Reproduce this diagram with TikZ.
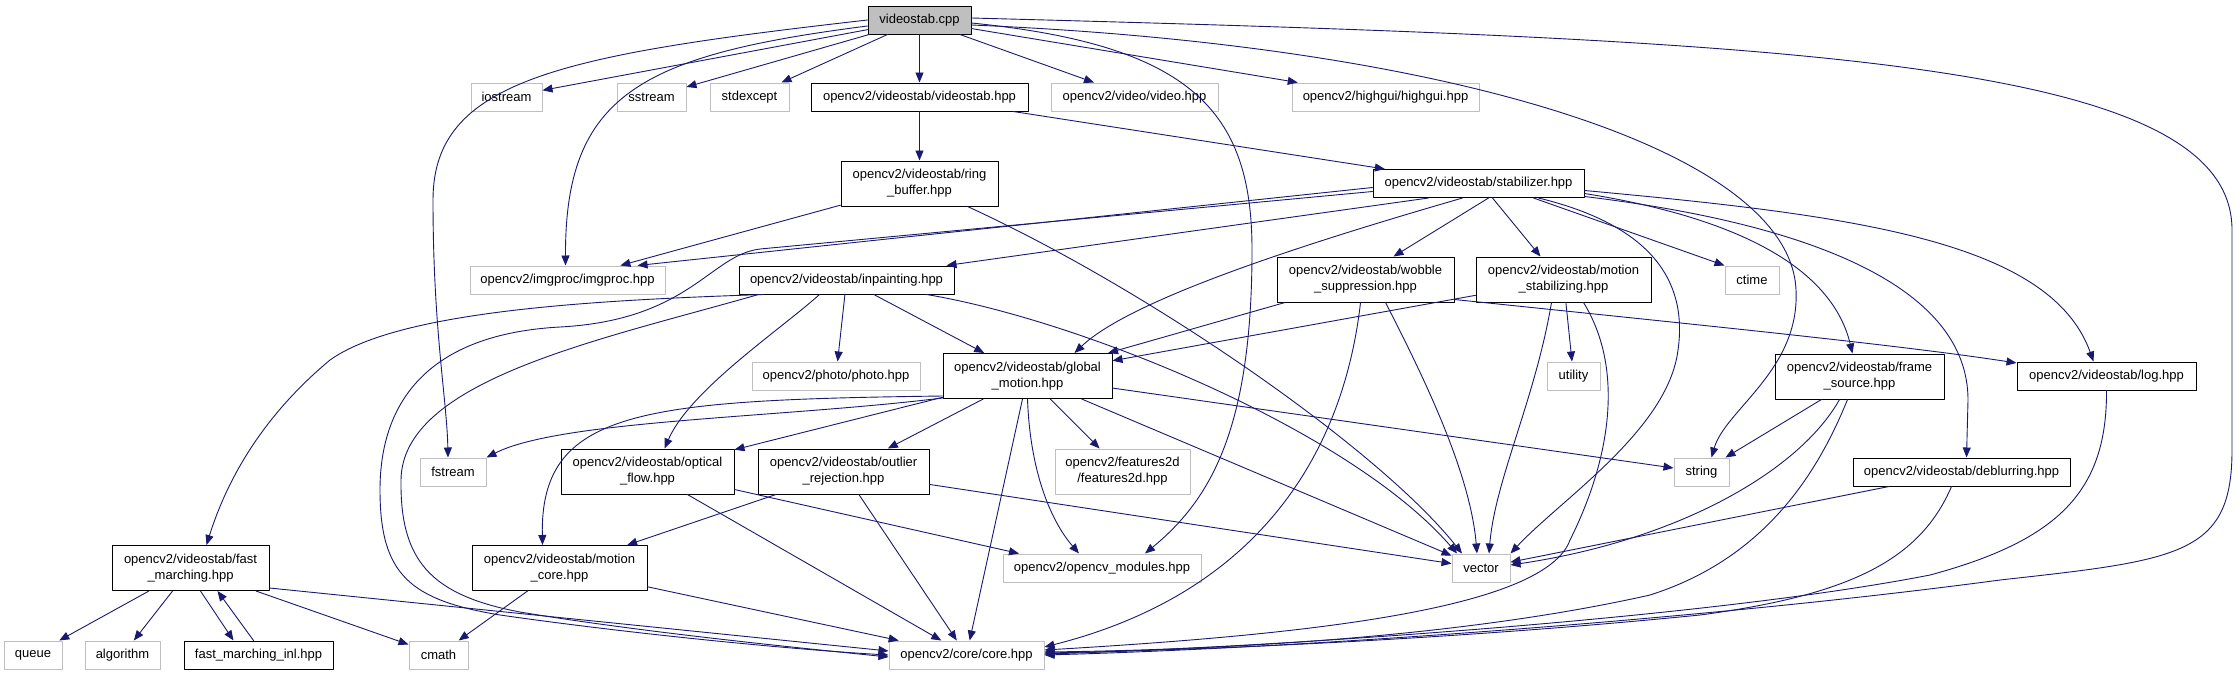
\documentclass[tikz,border=0pt]{standalone}
\usepackage{fontspec}
\setmainfont{Liberation Sans}
\usetikzlibrary{arrows.meta,calc}
\definecolor{greyline}{HTML}{BFBFBF}
\definecolor{midblue}{HTML}{191970}
\begin{document}
\begin{tikzpicture}[x=1pt,y=-1pt,font=\fontsize{13}{16}\selectfont,line join=round,line cap=round,
	box/.style={rectangle,inner sep=0pt,align=center,line width=1pt},
	cppbox/.style={box,draw=black,fill=greyline},
	docbox/.style={box,draw=black,fill=white},
	extbox/.style={box,draw=greyline,fill=white},
	dep/.style={draw=midblue,line width=0.9pt,-{Triangle[length=10pt,width=8pt]}}]
				\useasboundingbox (0,0) rectangle (2237,675);
				\node[cppbox,minimum width=103pt,minimum height=28pt] (cpp) at (919.5,20) {videostab.cpp};
				\foreach \x/\y/\w/\h/\n/\t in {919.5/97/217/28/vhpp/{opencv2/videostab/videostab.hpp},
					919.5/183.5/157/45/ringbuf/{opencv2/videostab/ring\\\_buffer.hpp},
					1478.5/183.5/211/28/stab/{opencv2/videostab/stabilizer.hpp},
					846.5/280/215/28/inpaint/{opencv2/videostab/inpainting.hpp},
					1365.5/279.5/177/45/wobble/{opencv2/videostab/wobble\\\_suppression.hpp},
					1563.5/279.5/175/45/motstab/{opencv2/videostab/motion\\\_stabilizing.hpp},
					1027.5/376/169/45/global/{opencv2/videostab/global\\\_motion.hpp},
					1859.5/376.5/169/45/frame/{opencv2/videostab/frame\\\_source.hpp},
					2106.5/376/179/28/log/{opencv2/videostab/log.hpp},
					647.5/471.5/173/45/optflow/{opencv2/videostab/optical\\\_flow.hpp},
					843.5/471.5/171/45/outlier/{opencv2/videostab/outlier\\\_rejection.hpp},
					1961.5/472/217/28/deblur/{opencv2/videostab/deblurring.hpp},
					190.5/568/157/45/fastm/{opencv2/videostab/fast\\\_marching.hpp},
					559.5/568/175/45/motcore/{opencv2/videostab/motion\\\_core.hpp},
					258.5/655/149/28/fminl/{fast\_marching\_inl.hpp}}
				\node[docbox,minimum width=\w pt,minimum height=\h pt] (\n) at (\x,\y) {\t};
				\foreach \x/\y/\w/\h/\n/\t in {506.5/97/71/28/iostream/iostream,
					651.5/97/69/28/sstream/sstream,
					749.5/97/79/28/stdexcept/stdexcept,
					1134.5/97/167/28/video/{opencv2/video/video.hpp},
					1385.5/97/187/28/highgui/{opencv2/highgui/highgui.hpp},
					567.5/280/195/28/imgproc/{opencv2/imgproc/imgproc.hpp},
					1752/280/54/28/ctime/ctime,
					836/376/168/28/photo/{opencv2/photo/photo.hpp},
					1573.5/376/53/28/utility/utility,
					453/472/66/28/fstream/fstream,
					1122.5/471.5/135/45/feat2d/{opencv2/features2d\\/features2d.hpp},
					1701.5/472/55/28/string/string,
					1102/568/198/28/modules/{opencv2/opencv\_modules.hpp},
					1481/568/58/28/vector/vector,
					33/655/58/28/queue/queue,
					122.5/655/75/28/algorithm/algorithm,
					438.5/655/59/28/cmath/cmath,
					966.5/655/155/28/core/{opencv2/core/core.hpp}}
				\node[extbox,minimum width=\w pt,minimum height=\h pt] (\n) at (\x,\y) {\t};
				% straight includes
				\foreach \a/\b in {cpp/iostream,cpp/sstream,cpp/stdexcept,cpp/vhpp,cpp/video,cpp/highgui,
					vhpp/ringbuf,vhpp/stab,ringbuf/imgproc,inpaint/photo,inpaint/global,wobble/global,
					motstab/global,motstab/utility,global/outlier,global/optflow,global/feat2d,global/core,
					global/vector,global/string,optflow/core,outlier/motcore,outlier/core,outlier/vector,
					motcore/cmath,motcore/core,fastm/queue,fastm/algorithm,fastm/cmath,frame/string,deblur/vector}
				\draw[dep] (\a) -- (\b);
				% videostab.cpp
				\draw[dep] (cpp.west) .. controls (560,55) and (433,80) .. (433,200) .. controls (433,330) and (447,400) .. ([xshift=-5pt]fstream.north);
				\draw[dep] ([yshift=-6pt]cpp.west) .. controls (640,55) and (565,95) .. ([xshift=-2pt]imgproc.north);
				\draw[dep] ([yshift=-3pt]cpp.east) .. controls (1190,45) and (1252,110) .. (1252,250) .. controls (1252,430) and (1210,500) .. ([xshift=43pt]modules.north);
				\draw[dep] ([yshift=-5pt]cpp.east) .. controls (1450,45) and (1790,150) .. (1796,290) .. controls (1800,370) and (1725,410) .. ([xshift=10pt]string.north);
				\draw[dep] ([yshift=2pt]cpp.east) .. controls (1800,40) and (2232,60) .. (2232,230) -- (2232,450) .. controls (2232,555) and (2180,560) .. (2000,580) .. controls (1700,620) and (1300,648) .. (core.east);
				% ring buffer
				\draw[dep] ([xshift=48pt]ringbuf.south) .. controls (1150,290) and (1380,450) .. ([xshift=-19pt]vector.north);
				% stabilizer
				\draw[dep] ([yshift=-4pt]stab.west) -- ([xshift=70pt]imgproc.north);
				\draw[dep] ([yshift=-8pt]stab.west) -- (760,249) .. controls (710,255) and (690,320) .. (560,327) .. controls (430,334) and (380,400) .. (380,490) .. controls (380,575) and (410,600) .. (500,615) .. controls (640,635) and (800,650) .. (core.west);
				\draw[dep] ([xshift=-50pt]stab.south) -- ([xshift=100pt]inpaint.north);
				\draw[dep] ([xshift=-16pt]stab.south) .. controls (1300,245) and (1130,300) .. ([xshift=47pt]global.north);
				\draw[dep] ([xshift=10pt]stab.south) -- ([xshift=28pt]wobble.north);
				\draw[dep] ([xshift=14pt]stab.south) -- ([xshift=-23pt]motstab.north);
				\draw[dep] ([xshift=55pt]stab.south) -- (ctime.north west);
				\draw[dep] ([xshift=60pt]stab.south) .. controls (1650,225) and (1688,280) .. (1678,350) .. controls (1668,430) and (1560,500) .. (vector.north east);
				\draw[dep] ([yshift=-7pt]stab.east) .. controls (1850,215) and (2050,240) .. ([xshift=-13pt]log.north);
				\draw[dep] ([yshift=-10pt]stab.east) .. controls (1720,215) and (1830,260) .. ([xshift=-7pt]frame.north);
				\draw[dep] ([yshift=-13pt]stab.east) .. controls (1820,225) and (1968,290) .. (1968,400) -- ([xshift=5pt]deblur.north);
				% inpainting
				\draw[dep] ([xshift=20pt]inpaint.south west) .. controls (600,340) and (402,380) .. (401,480) .. controls (400,560) and (430,595) .. (520,612) .. controls (640,632) and (800,648) .. ([yshift=-2pt]core.west);
				\draw[dep] ([xshift=25pt]inpaint.south west) .. controls (600,300) and (400,310) .. (330,360) .. controls (270,410) and (230,470) .. ([xshift=16pt]fastm.north);
				\draw[dep] ([xshift=-27pt]inpaint.south) .. controls (780,330) and (690,390) .. ([xshift=17pt]optflow.north);
				\draw[dep] ([xshift=80pt]inpaint.south) .. controls (1080,320) and (1350,430) .. ([xshift=-24pt]vector.north);
				% wobble suppression
				\draw[dep] ([xshift=-5pt]wobble.south) .. controls (1345,440) and (1270,590) .. ([yshift=8pt]core.east);
				\draw[dep] ([xshift=20pt]wobble.south) .. controls (1420,370) and (1470,470) .. ([xshift=-4pt]vector.north);
				\draw[dep] ([yshift=-20pt]wobble.east) .. controls (1700,325) and (1900,345) .. ([yshift=13pt]log.west);
				% motion stabilizing
				\draw[dep] ([xshift=-12pt]motstab.south) .. controls (1535,400) and (1495,480) .. ([xshift=8pt]vector.north);
				\draw[dep] ([xshift=20pt]motstab.south) .. controls (1625,370) and (1610,460) .. (1570,540) .. controls (1545,610) and (1300,635) .. ([yshift=5pt]core.east);
				% global motion
				\draw[dep] ([yshift=-22pt]global.west) .. controls (780,418) and (560,420) .. (fstream.north east);
				\draw[dep] ([yshift=-20pt]global.west) .. controls (640,400) and (540,410) .. ([xshift=-17pt]motcore.north);
				\draw[dep] (global.south) .. controls (1030,470) and (1050,520) .. ([xshift=-23pt]modules.north);
				% optical flow, fast marching
				\draw[dep] ([yshift=-18pt]optflow.east) -- ([xshift=-83pt]modules.north);
				\draw[dep] ([xshift=10pt]fastm.south) -- ([xshift=-25pt]fminl.north);
				\draw[dep] ([xshift=-5pt]fminl.north) -- ([xshift=27pt]fastm.south);
				\draw[dep] ([yshift=-20pt]fastm.east) -- ([yshift=4pt]core.west);
				% frame source, deblurring, log
				\draw[dep] ([xshift=-20pt]frame.south) .. controls (1800,470) and (1680,540) .. ([yshift=3pt]vector.east);
				\draw[dep] ([xshift=-12pt]frame.south) .. controls (1815,480) and (1760,560) .. (1650,595) .. controls (1450,640) and (1200,650) .. ([yshift=3pt]core.east);
				\draw[dep] ([xshift=-10pt]deblur.south) .. controls (1920,560) and (1850,595) .. (1700,615) .. controls (1450,640) and (1200,650) .. ([yshift=2pt]core.east);
				\draw[dep] (log.south) .. controls (2107,490) and (2060,540) .. (1930,575) .. controls (1700,620) and (1250,648) .. ([yshift=1pt]core.east);
		\end{tikzpicture}
\end{document}
